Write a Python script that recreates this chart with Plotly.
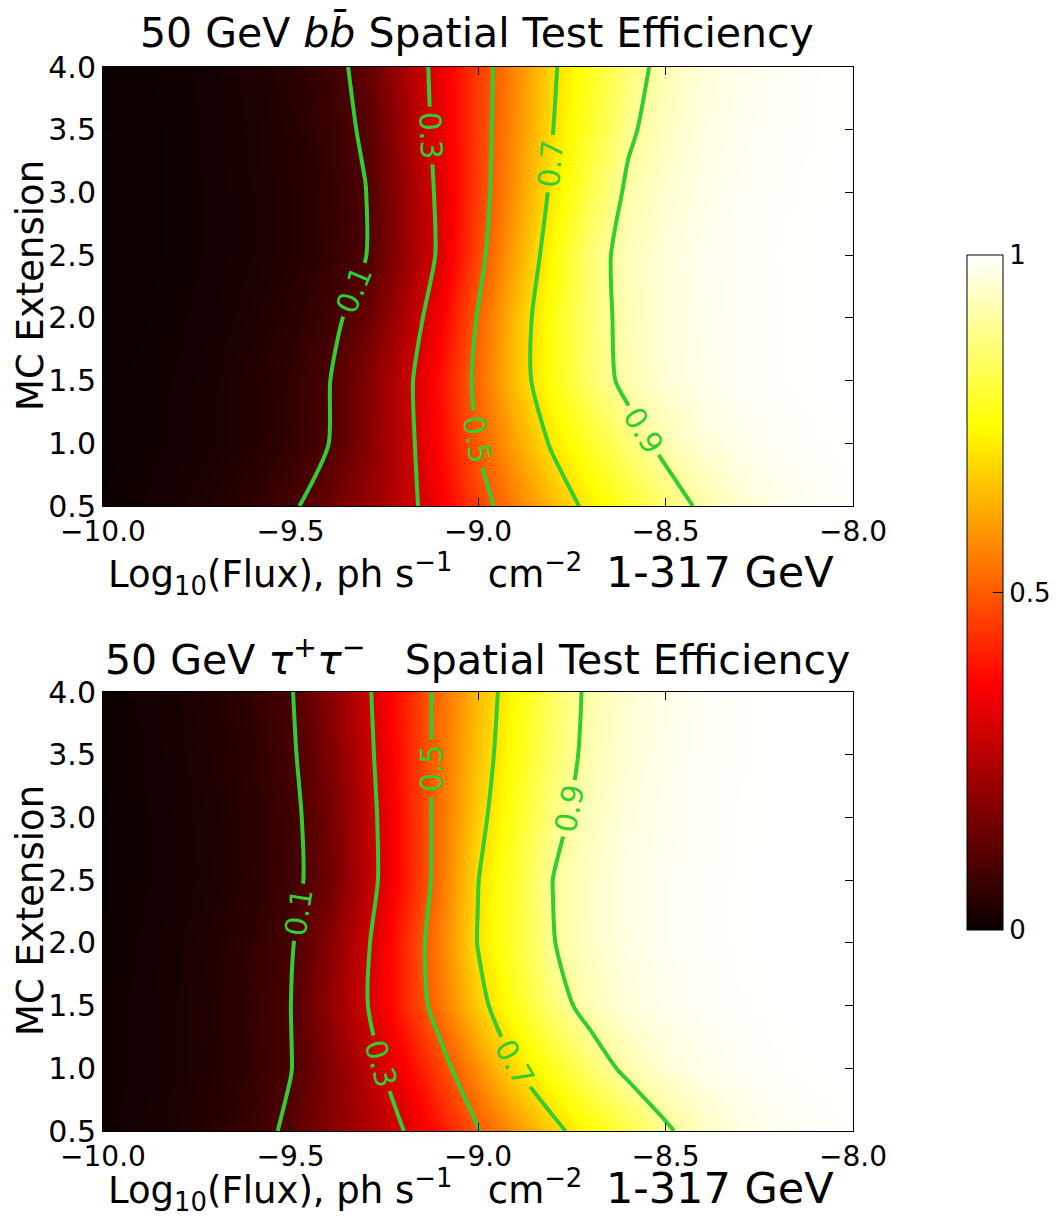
import plotly.graph_objects as go

# ---------------- data ----------------
log_flux = [-10.0, -9.9, -9.8, -9.7, -9.6, -9.5, -9.4, -9.3, -9.2, -9.1, -9.0,
            -8.9, -8.8, -8.7, -8.6, -8.5, -8.4, -8.3, -8.2, -8.1, -8.0]
mc_extension = [0.5, 1.0, 1.5, 2.0, 2.5, 3.0, 3.5, 4.0]

# efficiency, one row per MC extension (0.5 ... 4.0), columns follow log_flux
eff_bb = [
    [0.007, 0.011, 0.019, 0.033, 0.054, 0.087, 0.141, 0.204, 0.266, 0.351, 0.460, 0.556, 0.644, 0.725, 0.791, 0.857, 0.916, 0.954, 0.977, 0.988, 0.994],
    [0.005, 0.008, 0.013, 0.022, 0.037, 0.061, 0.098, 0.180, 0.265, 0.376, 0.504, 0.611, 0.713, 0.788, 0.863, 0.923, 0.959, 0.979, 0.990, 0.995, 0.998],
    [0.005, 0.008, 0.012, 0.021, 0.036, 0.059, 0.095, 0.177, 0.268, 0.387, 0.523, 0.655, 0.762, 0.855, 0.923, 0.959, 0.979, 0.990, 0.995, 0.998, 0.999],
    [0.004, 0.006, 0.010, 0.016, 0.028, 0.047, 0.076, 0.137, 0.237, 0.356, 0.506, 0.651, 0.764, 0.862, 0.927, 0.961, 0.981, 0.990, 0.995, 0.998, 0.999],
    [0.003, 0.005, 0.008, 0.013, 0.022, 0.037, 0.060, 0.097, 0.201, 0.316, 0.471, 0.614, 0.746, 0.863, 0.931, 0.963, 0.982, 0.991, 0.996, 0.998, 0.999],
    [0.003, 0.005, 0.008, 0.013, 0.022, 0.037, 0.061, 0.098, 0.206, 0.320, 0.457, 0.590, 0.718, 0.825, 0.914, 0.953, 0.976, 0.988, 0.994, 0.997, 0.999],
    [0.003, 0.005, 0.008, 0.014, 0.024, 0.040, 0.066, 0.111, 0.218, 0.330, 0.455, 0.578, 0.699, 0.793, 0.887, 0.939, 0.968, 0.984, 0.992, 0.996, 0.998],
    [0.004, 0.006, 0.009, 0.015, 0.026, 0.044, 0.071, 0.125, 0.228, 0.335, 0.452, 0.571, 0.690, 0.779, 0.865, 0.927, 0.961, 0.980, 0.990, 0.995, 0.998],
]

eff_tau = [
    [0.009, 0.015, 0.026, 0.044, 0.071, 0.115, 0.176, 0.237, 0.298, 0.396, 0.495, 0.585, 0.675, 0.750, 0.819, 0.889, 0.938, 0.968, 0.984, 0.992, 0.996],
    [0.008, 0.013, 0.022, 0.037, 0.060, 0.097, 0.175, 0.257, 0.354, 0.466, 0.581, 0.697, 0.777, 0.856, 0.920, 0.957, 0.978, 0.989, 0.995, 0.998, 0.999],
    [0.008, 0.013, 0.022, 0.038, 0.062, 0.099, 0.196, 0.292, 0.416, 0.542, 0.671, 0.772, 0.866, 0.929, 0.962, 0.981, 0.990, 0.995, 0.998, 0.999, 0.999],
    [0.007, 0.012, 0.020, 0.035, 0.057, 0.092, 0.181, 0.284, 0.417, 0.559, 0.704, 0.800, 0.897, 0.944, 0.971, 0.986, 0.993, 0.997, 0.999, 0.999, 0.999],
    [0.006, 0.010, 0.016, 0.028, 0.047, 0.077, 0.144, 0.256, 0.389, 0.538, 0.698, 0.800, 0.901, 0.945, 0.972, 0.986, 0.993, 0.997, 0.999, 0.999, 0.999],
    [0.006, 0.010, 0.017, 0.029, 0.049, 0.079, 0.149, 0.259, 0.391, 0.535, 0.674, 0.779, 0.877, 0.935, 0.966, 0.983, 0.991, 0.996, 0.998, 0.999, 0.999],
    [0.007, 0.011, 0.019, 0.033, 0.054, 0.087, 0.168, 0.271, 0.399, 0.532, 0.656, 0.760, 0.853, 0.923, 0.959, 0.979, 0.990, 0.995, 0.998, 0.999, 0.999],
    [0.008, 0.012, 0.021, 0.036, 0.058, 0.094, 0.183, 0.281, 0.405, 0.530, 0.645, 0.749, 0.843, 0.918, 0.956, 0.977, 0.989, 0.995, 0.998, 0.999, 0.999],
]

x_ticks = [-10.0, -9.5, -9.0, -8.5, -8.0]
y_ticks = [0.5, 1.0, 1.5, 2.0, 2.5, 3.0, 3.5, 4.0]
cbar_ticks = [0, 0.5, 1]
cbar_ticktext = ["0", "0.5", "1"]

titles = ["50 GeV <i>bb\u0304</i> Spatial Test Efficiency",
          "50 GeV <i>\u03c4</i><sup>+</sup><i>\u03c4</i><sup>\u2212</sup>   Spatial Test Efficiency"]
x_title = ("Log<sub>10</sub>(Flux), ph s<sup>\u22121</sup>   cm<sup>\u22122</sup>  "
           "<span style='font-size:43px'>1-317 GeV</span>")
y_title = "MC Extension"

# ---------------- styling ----------------
W, H = 1056, 1218
FONT = "DejaVu Sans"
GREEN = "#32cd32"
hot = [[0.0, "rgb(11,0,0)"], [0.365079, "rgb(255,0,0)"],
       [0.746032, "rgb(255,255,0)"], [1.0, "rgb(255,255,255)"]]

def px_x(p):
    return p / W

def px_y(p):
    return (H - p) / H

fig = go.Figure()
for i, z in enumerate([eff_bb, eff_tau]):
    sfx = "" if i == 0 else "2"
    fig.add_trace(go.Contour(
        x=log_flux, y=mc_extension, z=z,
        coloraxis="coloraxis",
        contours=dict(start=0.1, end=0.9, size=0.2, coloring="heatmap",
                      showlabels=True,
                      labelfont=dict(color=GREEN, size=30, family=FONT),
                      labelformat=".1f"),
        line=dict(color=GREEN, width=4, smoothing=0.7),
        xaxis="x" + sfx, yaxis="y" + sfx,
        hoverinfo="skip",
    ))

axis_common = dict(
    showgrid=False, zeroline=False, showline=True, linecolor="black", linewidth=1,
    mirror="allticks", ticks="inside", ticklen=8, tickwidth=1, tickcolor="black",
    tickformat=".1f", automargin=False,
)
xfont = dict(family=FONT, size=28, color="black")
yfont = dict(family=FONT, size=30, color="black")

xdom = [px_x(103), px_x(853)]
top_dom = [px_y(506), px_y(67)]
bot_dom = [px_y(1131), px_y(692)]

fig.update_layout(
    width=W, height=H,
    margin=dict(l=0, r=0, t=0, b=0, autoexpand=False),
    paper_bgcolor="white", plot_bgcolor="white",
    font=dict(family=FONT, color="black"),
    showlegend=False,
    xaxis=dict(domain=xdom, anchor="y", range=[-10, -8], tickvals=x_ticks, tickfont=xfont, **axis_common),
    yaxis=dict(domain=top_dom, anchor="x", range=[0.5, 4.0], tickvals=y_ticks, tickfont=yfont, **axis_common),
    xaxis2=dict(domain=xdom, anchor="y2", range=[-10, -8], tickvals=x_ticks, tickfont=xfont, **axis_common),
    yaxis2=dict(domain=bot_dom, anchor="x2", range=[0.5, 4.0], tickvals=y_ticks, tickfont=yfont, **axis_common),
    coloraxis=dict(
        colorscale=hot, cmin=0, cmax=1,
        colorbar=dict(
            x=px_x(967), xanchor="left", xpad=0, ypad=0,
            y=px_y(592.5), yanchor="middle",
            len=675, lenmode="pixels", thickness=36, thicknessmode="pixels",
            outlinecolor="black", outlinewidth=1,
            tickvals=cbar_ticks, ticktext=cbar_ticktext,
            ticks="inside", ticklen=10, tickcolor="black",
            tickfont=dict(family=FONT, size=26, color="black"),
        ),
    ),
)

annotations = []
for title, ty in zip(titles, [33, 657]):
    annotations.append(dict(text=title, x=px_x(477), y=px_y(ty), xref="paper", yref="paper",
                            showarrow=False, xanchor="center", yanchor="middle",
                            font=dict(family=FONT, size=41, color="black")))
for xy in [574, 1190]:
    annotations.append(dict(text=x_title, x=px_x(471), y=px_y(xy), xref="paper", yref="paper",
                            showarrow=False, xanchor="center", yanchor="middle",
                            font=dict(family=FONT, size=37, color="black")))
for yy in [286, 911]:
    annotations.append(dict(text=y_title, x=px_x(30), y=px_y(yy), xref="paper", yref="paper",
                            showarrow=False, xanchor="center", yanchor="middle", textangle=-90,
                            font=dict(family=FONT, size=37, color="black")))
fig.update_layout(annotations=annotations)

fig.write_html("out.html")
